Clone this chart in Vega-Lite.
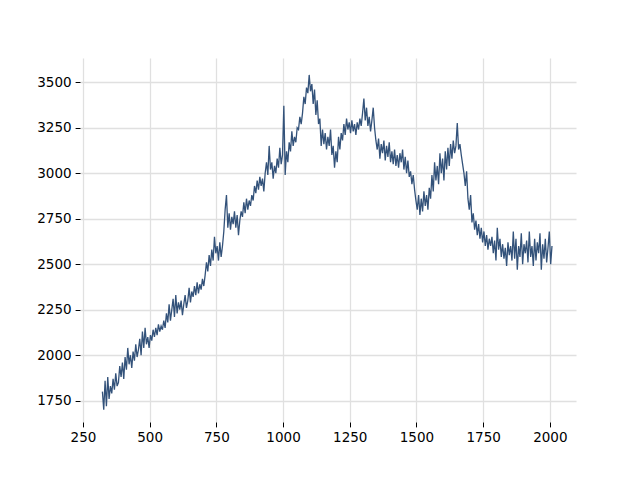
{
"$schema": "https://vega.github.io/schema/vega-lite/v6.json",
"width": 496,
"height": 364,
"autosize": {"type": "none"},
"padding": {"left": 80, "top": 58, "right": 64, "bottom": 58},
"background": "white",
"data": {"values": [
{"x":323,"y":1800},{"x":328,"y":1700},{"x":333,"y":1860},{"x":338,"y":1720},{"x":343,"y":1880},{"x":348,"y":1760},{"x":353,"y":1830},{"x":358,"y":1790},{"x":363,"y":1870},{"x":368,"y":1810},
{"x":373,"y":1900},{"x":378,"y":1830},{"x":383,"y":1850},{"x":388,"y":1940},{"x":393,"y":1880},{"x":398,"y":1960},{"x":403,"y":1870},{"x":408,"y":1990},{"x":413,"y":1920},{"x":418,"y":2040},
{"x":423,"y":1950},{"x":428,"y":2000},{"x":433,"y":1930},{"x":438,"y":2020},{"x":443,"y":1970},{"x":448,"y":2060},{"x":453,"y":1990},{"x":458,"y":2030},{"x":463,"y":2090},{"x":468,"y":2000},
{"x":473,"y":2130},{"x":478,"y":2040},{"x":483,"y":2150},{"x":488,"y":2060},{"x":493,"y":2100},{"x":498,"y":2040},{"x":503,"y":2110},{"x":508,"y":2080},{"x":513,"y":2140},{"x":518,"y":2100},
{"x":523,"y":2150},{"x":528,"y":2110},{"x":533,"y":2170},{"x":538,"y":2130},{"x":543,"y":2160},{"x":548,"y":2140},{"x":553,"y":2190},{"x":558,"y":2150},{"x":563,"y":2230},{"x":568,"y":2180},
{"x":573,"y":2280},{"x":578,"y":2190},{"x":583,"y":2250},{"x":588,"y":2310},{"x":593,"y":2210},{"x":598,"y":2330},{"x":603,"y":2230},{"x":608,"y":2290},{"x":613,"y":2250},{"x":618,"y":2300},
{"x":623,"y":2220},{"x":628,"y":2280},{"x":633,"y":2330},{"x":638,"y":2260},{"x":643,"y":2300},{"x":648,"y":2370},{"x":653,"y":2290},{"x":658,"y":2350},{"x":663,"y":2320},{"x":668,"y":2380},
{"x":673,"y":2330},{"x":678,"y":2400},{"x":683,"y":2340},{"x":688,"y":2390},{"x":693,"y":2360},{"x":698,"y":2420},{"x":703,"y":2380},{"x":708,"y":2440},{"x":713,"y":2510},{"x":718,"y":2460},
{"x":723,"y":2550},{"x":728,"y":2490},{"x":733,"y":2580},{"x":738,"y":2520},{"x":743,"y":2650},{"x":748,"y":2560},{"x":753,"y":2600},{"x":758,"y":2520},{"x":763,"y":2620},{"x":768,"y":2540},
{"x":773,"y":2600},{"x":778,"y":2680},{"x":783,"y":2800},{"x":788,"y":2880},{"x":793,"y":2700},{"x":798,"y":2780},{"x":803,"y":2690},{"x":808,"y":2760},{"x":813,"y":2720},{"x":818,"y":2790},
{"x":823,"y":2700},{"x":828,"y":2770},{"x":833,"y":2660},{"x":838,"y":2740},{"x":843,"y":2790},{"x":848,"y":2760},{"x":853,"y":2840},{"x":858,"y":2780},{"x":863,"y":2860},{"x":868,"y":2800},
{"x":873,"y":2850},{"x":878,"y":2820},{"x":883,"y":2880},{"x":888,"y":2850},{"x":893,"y":2930},{"x":898,"y":2890},{"x":903,"y":2960},{"x":908,"y":2910},{"x":913,"y":2980},{"x":918,"y":2930},
{"x":923,"y":2970},{"x":928,"y":2900},{"x":933,"y":3000},{"x":938,"y":3060},{"x":943,"y":2990},{"x":948,"y":3150},{"x":953,"y":3020},{"x":958,"y":3060},{"x":963,"y":2970},{"x":968,"y":3040},
{"x":973,"y":3000},{"x":978,"y":3080},{"x":983,"y":3030},{"x":988,"y":3140},{"x":993,"y":3050},{"x":998,"y":3100},{"x":1003,"y":3370},{"x":1008,"y":2990},{"x":1013,"y":3120},{"x":1018,"y":3060},
{"x":1023,"y":3170},{"x":1028,"y":3120},{"x":1033,"y":3230},{"x":1038,"y":3150},{"x":1043,"y":3200},{"x":1048,"y":3170},{"x":1053,"y":3250},{"x":1058,"y":3240},{"x":1063,"y":3310},{"x":1068,"y":3270},
{"x":1073,"y":3330},{"x":1078,"y":3420},{"x":1083,"y":3380},{"x":1088,"y":3470},{"x":1093,"y":3440},{"x":1098,"y":3540},{"x":1103,"y":3450},{"x":1108,"y":3490},{"x":1113,"y":3380},{"x":1118,"y":3460},
{"x":1123,"y":3320},{"x":1128,"y":3400},{"x":1133,"y":3270},{"x":1138,"y":3300},{"x":1143,"y":3150},{"x":1148,"y":3240},{"x":1153,"y":3160},{"x":1158,"y":3220},{"x":1163,"y":3130},{"x":1168,"y":3200},
{"x":1173,"y":3150},{"x":1178,"y":3240},{"x":1183,"y":3100},{"x":1188,"y":3150},{"x":1193,"y":3030},{"x":1198,"y":3120},{"x":1203,"y":3060},{"x":1208,"y":3200},{"x":1213,"y":3130},{"x":1218,"y":3220},
{"x":1223,"y":3180},{"x":1228,"y":3270},{"x":1233,"y":3210},{"x":1238,"y":3300},{"x":1243,"y":3240},{"x":1248,"y":3280},{"x":1253,"y":3220},{"x":1258,"y":3290},{"x":1263,"y":3230},{"x":1268,"y":3270},
{"x":1273,"y":3210},{"x":1278,"y":3280},{"x":1283,"y":3240},{"x":1288,"y":3300},{"x":1293,"y":3260},{"x":1298,"y":3330},{"x":1303,"y":3410},{"x":1308,"y":3290},{"x":1313,"y":3360},{"x":1318,"y":3260},
{"x":1323,"y":3310},{"x":1328,"y":3230},{"x":1333,"y":3290},{"x":1338,"y":3360},{"x":1343,"y":3250},{"x":1348,"y":3180},{"x":1353,"y":3130},{"x":1358,"y":3190},{"x":1363,"y":3080},{"x":1368,"y":3160},
{"x":1373,"y":3110},{"x":1378,"y":3180},{"x":1383,"y":3070},{"x":1388,"y":3150},{"x":1393,"y":3090},{"x":1398,"y":3170},{"x":1403,"y":3060},{"x":1408,"y":3120},{"x":1413,"y":3050},{"x":1418,"y":3130},
{"x":1423,"y":3040},{"x":1428,"y":3100},{"x":1433,"y":3030},{"x":1438,"y":3110},{"x":1443,"y":3060},{"x":1448,"y":3130},{"x":1453,"y":3020},{"x":1458,"y":3090},{"x":1463,"y":3000},{"x":1468,"y":3070},
{"x":1473,"y":2980},{"x":1478,"y":3010},{"x":1483,"y":2940},{"x":1488,"y":2990},{"x":1493,"y":2910},{"x":1498,"y":2850},{"x":1503,"y":2800},{"x":1508,"y":2880},{"x":1513,"y":2770},{"x":1518,"y":2860},
{"x":1523,"y":2790},{"x":1528,"y":2900},{"x":1533,"y":2820},{"x":1538,"y":2880},{"x":1543,"y":2800},{"x":1548,"y":2920},{"x":1553,"y":2860},{"x":1558,"y":2990},{"x":1563,"y":2900},{"x":1568,"y":3060},
{"x":1573,"y":2960},{"x":1578,"y":3040},{"x":1583,"y":2940},{"x":1588,"y":3110},{"x":1593,"y":3000},{"x":1598,"y":3080},{"x":1603,"y":2960},{"x":1608,"y":3120},{"x":1613,"y":3020},{"x":1618,"y":3140},
{"x":1623,"y":3040},{"x":1628,"y":3160},{"x":1633,"y":3080},{"x":1638,"y":3180},{"x":1643,"y":3110},{"x":1648,"y":3150},{"x":1653,"y":3275},{"x":1658,"y":3130},{"x":1663,"y":3160},{"x":1668,"y":3100},
{"x":1673,"y":3050},{"x":1678,"y":3000},{"x":1683,"y":2930},{"x":1688,"y":3010},{"x":1693,"y":2860},{"x":1698,"y":2800},{"x":1703,"y":2880},{"x":1708,"y":2730},{"x":1713,"y":2780},{"x":1718,"y":2690},
{"x":1723,"y":2740},{"x":1728,"y":2660},{"x":1733,"y":2720},{"x":1738,"y":2640},{"x":1743,"y":2700},{"x":1748,"y":2620},{"x":1753,"y":2680},{"x":1758,"y":2600},{"x":1763,"y":2660},{"x":1768,"y":2580},
{"x":1773,"y":2640},{"x":1778,"y":2600},{"x":1783,"y":2650},{"x":1788,"y":2560},{"x":1793,"y":2630},{"x":1798,"y":2520},{"x":1803,"y":2700},{"x":1808,"y":2580},{"x":1813,"y":2640},{"x":1818,"y":2540},
{"x":1823,"y":2610},{"x":1828,"y":2530},{"x":1833,"y":2590},{"x":1838,"y":2490},{"x":1843,"y":2620},{"x":1848,"y":2550},{"x":1853,"y":2600},{"x":1858,"y":2520},{"x":1863,"y":2680},{"x":1868,"y":2530},
{"x":1873,"y":2640},{"x":1878,"y":2470},{"x":1883,"y":2600},{"x":1888,"y":2540},{"x":1893,"y":2670},{"x":1898,"y":2500},{"x":1903,"y":2610},{"x":1908,"y":2560},{"x":1913,"y":2630},{"x":1918,"y":2510},
{"x":1923,"y":2680},{"x":1928,"y":2540},{"x":1933,"y":2600},{"x":1938,"y":2490},{"x":1943,"y":2640},{"x":1948,"y":2520},{"x":1953,"y":2620},{"x":1958,"y":2560},{"x":1963,"y":2670},{"x":1968,"y":2470},
{"x":1973,"y":2610},{"x":1978,"y":2530},{"x":1983,"y":2640},{"x":1988,"y":2510},{"x":1993,"y":2590},{"x":1998,"y":2680},{"x":2003,"y":2500},{"x":2008,"y":2600}
]},
"mark": {"type": "line", "color": "#33527a", "strokeWidth": 1.3, "clip": true},
"encoding": {
  "x": {"field": "x", "type": "quantitative",
        "scale": {"domain": [239, 2098], "nice": false, "zero": false},
        "axis": {"values": [250, 500, 750, 1000, 1250, 1500, 1750, 2000], "title": null}},
  "y": {"field": "y", "type": "quantitative",
        "scale": {"domain": [1633, 3633], "nice": false, "zero": false},
        "axis": {"values": [1750, 2000, 2250, 2500, 2750, 3000, 3250, 3500], "title": null}}
},
"config": {
  "view": {"stroke": null},
  "axis": {
    "domain": false,
    "grid": true,
    "gridColor": "#e0e0e0",
    "gridWidth": 1.3,
    "ticks": true,
    "tickColor": "#000000",
    "tickSize": 4.9,
    "tickWidth": 1,
    "labelFont": "DejaVu Sans",
    "labelFontSize": 13.5,
    "labelColor": "#000000",
    "labelPadding": 4,
    "format": "d"
  }
}
}
